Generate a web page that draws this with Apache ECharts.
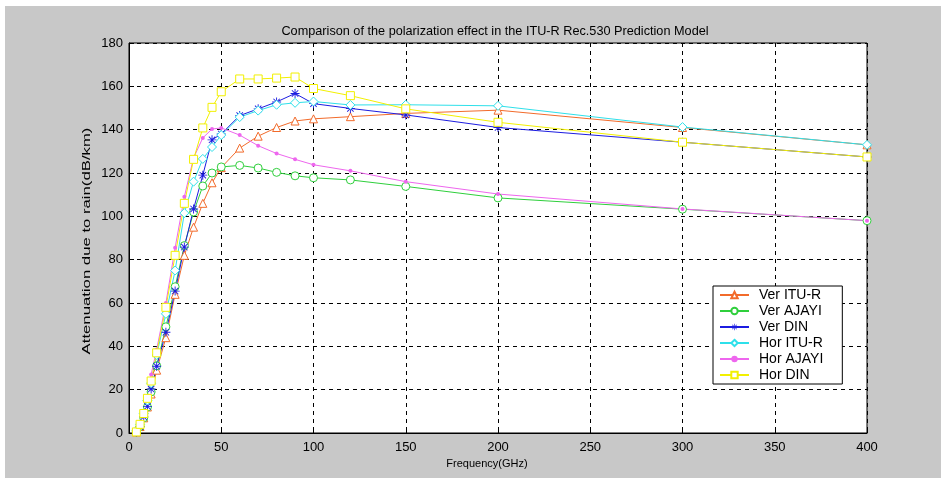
<!DOCTYPE html>
<html><head><meta charset="utf-8">
<script src="https://cdn.jsdelivr.net/npm/echarts@6/dist/echarts.min.js"></script>
<style>html,body{margin:0;padding:0;background:#fff}#c{width:941px;height:481px}</style>
</head><body><div id="c"></div>
<script>
const freqs = [4, 6, 8, 10, 12, 15, 20, 25, 30, 35, 40, 45, 50, 60, 70, 80, 90, 100, 120, 150, 200, 300, 400];
const verITU = [0.5, 3, 7, 12, 18, 29, 44, 64, 82, 95, 106, 115.5, 122.5, 131.5, 137, 141, 144, 145, 146, 147.5, 149, 141, 133];
const verAJAYI = [0.5, 3, 7, 12, 19, 31, 49, 67.5, 86.5, 102, 114, 120, 122.8, 123.5, 122.3, 120.3, 118.7, 117.8, 116.8, 113.8, 108.5, 103.3, 98];
const verDIN = [0.5, 3, 7.5, 12.3, 20.3, 30.8, 46.5, 65.5, 85.8, 103.4, 119, 135.3, 138, 146.5, 149.6, 152.8, 156.7, 152, 149.8, 146.8, 141, 134.2, 127.4];
const horITU = [1, 4, 9, 15, 23, 36, 55, 75, 101.5, 116, 126.5, 132, 137.5, 145.8, 148.8, 151.5, 152.4, 153, 151.4, 151.5, 151, 141.2, 133];
const horAJAYI = [1, 5, 10, 17, 27, 38.5, 60, 85.5, 109, 127, 136.2, 140.3, 140.8, 137.5, 132.6, 129, 126.3, 123.8, 121, 116, 110.3, 103.4, 98];
const horDIN = [0.5, 4, 9, 16, 24, 37, 58, 82, 106, 126.3, 140.8, 150.3, 157.5, 163.4, 163.4, 163.8, 164.3, 159, 155.7, 149.6, 143.4, 134.2, 127.4];
const seriesNames = ['Ver ITU-R', 'Ver AJAYI', 'Ver DIN', 'Hor ITU-R', 'Hor AJAYI', 'Hor DIN'];
const xTicks = [0, 50, 100, 150, 200, 250, 300, 350, 400];
const yTicks = [0, 20, 40, 60, 80, 100, 120, 140, 160, 180];
const titleText = 'Comparison of the polarization effect in the ITU-R Rec.530 Prediction Model';
const xName = 'Frequency(GHz)';
const yName = 'Attenuation due to rain(dB/km)';

const star = 'path://M9,0L11,0L11,20L9,20Z M0,9L20,9L20,11L0,11Z M2.2,3.6L3.6,2.2L17.8,16.4L16.4,17.8Z M16.4,2.2L17.8,3.6L3.6,17.8L2.2,16.4Z';
const styles = [
  {c: '#f26b2b', sym: 'triangle', size: 8, hollow: true},
  {c: '#2fcf3c', sym: 'circle', size: 8, hollow: true},
  {c: '#1c1ce0', sym: star, size: 9, hollow: false},
  {c: '#2ee0ea', sym: 'diamond', size: 9, hollow: true},
  {c: '#ee66ee', sym: 'circle', size: 4, hollow: false},
  {c: '#f2f000', sym: 'rect', size: 8, hollow: true}
];
const datas = [verITU, verAJAYI, verDIN, horITU, horAJAYI, horDIN];

const series = datas.map((d, i) => ({
  name: seriesNames[i], type: 'line',
  data: freqs.map((f, j) => [f, d[j]]),
  symbol: styles[i].sym, symbolSize: styles[i].size,
  showAllSymbol: true,
  lineStyle: {color: styles[i].c, width: 1},
  itemStyle: {color: styles[i].hollow ? '#ffffff' : styles[i].c, borderColor: styles[i].c, borderWidth: styles[i].hollow ? 1 : 0},
  emphasis: {disabled: true}, animation: false
}));

const chart = echarts.init(document.getElementById('c'), null, {renderer: 'canvas'});
chart.setOption({
  animation: false,
  backgroundColor: '#ffffff',
  graphic: [
    {type: 'rect', z: -10, shape: {x: 5, y: 6, width: 936, height: 472}, style: {fill: '#c8c8c8'}},
    {type: 'text', x: 87, y: 241, rotation: Math.PI / 2, scaleX: 1.52, scaleY: 1, z: 10,
      style: {text: yName, fontFamily: 'Liberation Sans', fontSize: 11, fill: '#000', align: 'center', verticalAlign: 'middle'}}
  ],
  title: {text: titleText, left: 490, top: 20, textAlign: 'center',
    textStyle: {fontFamily: 'Liberation Sans', fontSize: 12.7, fontWeight: 'normal', color: '#000'}},
  grid: {left: 129, right: 74, top: 43, bottom: 48, show: true, backgroundColor: '#fff', borderColor: '#000', borderWidth: 1},
  legend: {
    orient: 'vertical', left: 713, top: 286, data: seriesNames,
    backgroundColor: '#fff', borderColor: '#000', borderWidth: 1, padding: [2, 19, 2, 6],
    itemWidth: 29, itemHeight: 8, itemGap: 2,
    textStyle: {fontFamily: 'Liberation Sans', fontSize: 14, lineHeight: 14, color: '#000', padding: [0, 0, 0, 5]}
  },
  xAxis: {type: 'value', min: xTicks[0], max: xTicks[xTicks.length - 1], interval: 50,
    name: xName, nameLocation: 'middle', nameGap: 24,
    nameTextStyle: {fontFamily: 'Liberation Sans', fontSize: 11, color: '#000', padding: [0, 22, 0, 0]},
    axisLine: {lineStyle: {color: '#000'}}, axisTick: {inside: true, length: 5, lineStyle: {color: '#000'}},
    axisLabel: {fontFamily: 'Liberation Sans', fontSize: 13, color: '#000', margin: 8},
    splitLine: {show: true, lineStyle: {color: '#000', type: [4, 4], width: 1}}},
  yAxis: {type: 'value', min: yTicks[0], max: yTicks[yTicks.length - 1], interval: 20,
    axisLine: {lineStyle: {color: '#000'}}, axisTick: {inside: true, length: 5, lineStyle: {color: '#000'}},
    axisLabel: {fontFamily: 'Liberation Sans', fontSize: 13, color: '#000', margin: 6},
    splitLine: {show: true, lineStyle: {color: '#000', type: [4, 4], width: 1}}},
  series: series
});
</script></body></html>
